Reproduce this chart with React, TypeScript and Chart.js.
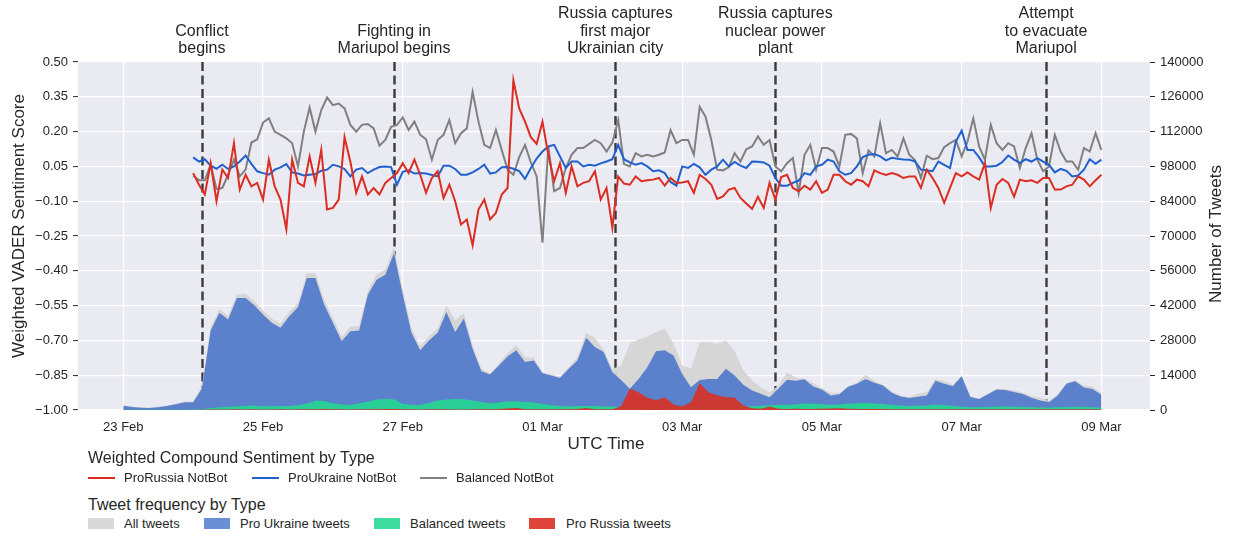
import React, { useEffect, useRef } from 'react';
import { Chart, registerables } from 'chart.js';

Chart.register(...registerables);

// ---------- DATA ----------
// Hours counted from 23 Feb 00:00 UTC
const lineStartHour = 24;
const lineStepHours = 2;
const areaStartHour = 0;
const areaStepHours = 3;

const proRussiaSentiment = [
  0.021, -0.029, -0.071, 0.064, -0.100, 0.036, 0.000, 0.150, -0.050, 0.014, -0.036,
  -0.021, -0.093, 0.079, -0.036, -0.093, -0.221, 0.079, -0.021, -0.036, 0.093, -0.021,
  0.121, -0.136, -0.129, -0.093, 0.176, 0.070, -0.064, 0.007, -0.071, -0.043, -0.071,
  -0.021, 0.000, 0.021, 0.064, 0.021, 0.079, 0.014, -0.064, 0.000, 0.029,
  -0.086, -0.029, -0.100, -0.200, -0.179, -0.290, -0.136, -0.093, -0.179, -0.150, -0.071,
  -0.043, 0.421, 0.300, 0.243, 0.176, 0.147, 0.243, 0.100, -0.014, 0.064, -0.064,
  0.050, -0.036, -0.021, -0.014, 0.029, -0.093, -0.043, -0.214, 0.007, -0.024, -0.029,
  0.007, -0.014, -0.010, -0.007, 0.000, -0.033, 0.000, -0.021, -0.019, -0.014, -0.064,
  0.014, -0.004, -0.029, -0.090, -0.079, -0.050, -0.043, -0.086, -0.110, -0.133, -0.081,
  -0.129, -0.021, -0.093,
  0.004, 0.014, -0.043, -0.057, -0.033, -0.050, -0.014, -0.064, -0.050, 0.014, 0.014,
  -0.014, -0.029, -0.007, -0.014, -0.036, 0.033, 0.021, 0.013, 0.021, 0.014, 0.000,
  0.007, 0.007, -0.043, 0.036, 0.000, -0.043, -0.107, -0.043, 0.021, 0.007, 0.024,
  0.007, -0.007, 0.064, -0.129, -0.029, -0.004, -0.021, -0.081, -0.007, -0.014, -0.010,
  -0.021, 0.000, 0.000, -0.050, -0.050, -0.036, -0.029, 0.007, -0.007, -0.036, -0.010,
  0.014,
];

const proUkraineSentiment = [
  0.089, 0.071, 0.081, 0.053, 0.040, 0.057, 0.039, 0.050, 0.071, 0.097, 0.061,
  0.029, 0.021, 0.014, 0.036, 0.046, 0.060, 0.024, 0.019, 0.011, 0.014, 0.017,
  0.031, 0.036, 0.057, 0.050, 0.039, 0.007, 0.036, 0.043, 0.021, 0.036, 0.047,
  0.050, 0.047, -0.029, 0.027, 0.033, 0.019, 0.021, 0.019, 0.013, 0.007,
  0.053, 0.053, 0.039, 0.014, 0.014, 0.024, 0.039, 0.057, 0.019, 0.024, 0.046,
  0.047, 0.040, 0.030, -0.004, 0.043, 0.084, 0.114, 0.136, 0.143, 0.093, 0.043,
  0.071, 0.071, 0.050, 0.057, 0.053, 0.063, 0.071, 0.081, 0.143, 0.081, 0.067,
  0.057, 0.064, 0.050, 0.029, 0.033, 0.021, -0.017, -0.033, 0.050, 0.043, 0.061,
  0.046, 0.014, 0.036, 0.050, 0.079, 0.050, 0.069, 0.053, 0.043, 0.071, 0.070,
  0.067, 0.053, 0.000,
  -0.033, -0.033, -0.021, -0.011, 0.021, 0.014, 0.050, 0.057, 0.079, 0.071, 0.029,
  0.014, 0.021, 0.050, 0.090, 0.100, 0.103, 0.093, 0.076, 0.087, 0.083, 0.080,
  0.079, 0.071, 0.036, 0.033, 0.029, 0.071, 0.057, 0.043, 0.157, 0.204, 0.121,
  0.121, 0.089, 0.050, 0.050, 0.053, 0.069, 0.097, 0.079, 0.064, 0.081, 0.071,
  0.086, 0.071, 0.057, 0.024, 0.039, 0.031, 0.007, 0.011, 0.036, 0.081, 0.061,
  0.079,
];

const balancedSentiment = [
  0.010, -0.010, -0.010, 0.057, -0.047, -0.043, 0.014, 0.079, 0.007, 0.036, 0.153,
  0.167, 0.239, 0.257, 0.200, 0.186, 0.171, 0.150, 0.050, 0.200, 0.304, 0.200,
  0.293, 0.347, 0.314, 0.321, 0.300, 0.229, 0.200, 0.229, 0.233, 0.214, 0.139,
  0.164, 0.221, 0.229, 0.261, 0.207, 0.243, 0.186, 0.167, 0.079, 0.164,
  0.186, 0.250, 0.150, 0.193, 0.214, 0.371, 0.243, 0.143, 0.129, 0.207, 0.121,
  0.036, 0.014, 0.090, 0.143, 0.067, 0.007, -0.279, 0.136, -0.057, -0.043, 0.043,
  0.100, 0.129, 0.129, 0.147, 0.164, 0.150, 0.114, 0.153, 0.250, 0.060, 0.050,
  0.107, 0.093, 0.100, 0.093, 0.100, 0.110, 0.207, 0.150, 0.164, 0.164, 0.100,
  0.307, 0.264, 0.164, 0.036, 0.033, 0.047, 0.107, 0.071, 0.124, 0.136, 0.179,
  0.143, 0.164, 0.050,
  0.029, 0.064, 0.086, -0.064, 0.100, 0.143, 0.036, 0.129, 0.129, 0.114, 0.050,
  0.186, 0.190, 0.171, 0.021, 0.119, 0.093, 0.236, 0.107, 0.121, 0.093, 0.171,
  0.100, 0.076, 0.000, 0.096, 0.081, 0.086, 0.133, 0.150, 0.164, 0.093, 0.157,
  0.257, 0.136, 0.079, 0.229, 0.150, 0.121, 0.150, 0.136, 0.043, 0.129, 0.193,
  0.079, 0.029, 0.050, 0.186, 0.114, 0.071, 0.071, 0.036, 0.129, 0.114, 0.193,
  0.121,
];

const allTweets = [
  1900, 1400, 1100, 1000, 1300, 1800, 2500, 3300, 3400, 9500, 33500, 40500, 38000,
  46500, 46800, 43800, 40000, 36800, 34800, 39500, 43000, 55000, 55000, 44500, 37000,
  29500, 33500, 33800, 48000, 54500, 56500, 65500, 48500, 32800, 25600, 29800, 32800,
  42100, 36100, 38800, 26000, 16600, 14800, 18600, 22900, 26000, 21300, 21000, 15200,
  14300, 13500, 17200, 21300, 31000, 29100, 24200, 16600, 17900, 26700, 28400, 29600,
  31400, 32700, 26700, 17900, 16600, 27300, 27300, 26700, 28000, 23700, 15900, 11900,
  9200, 7100, 9800,
  15100, 13100, 12600, 10900, 8800, 6900, 6800, 9500, 11000, 14300, 11700, 10100,
  7500, 5800, 5200, 6500, 7200, 12500, 11700, 10200, 13800, 5600, 4500, 6500,
  8400, 8400, 7800, 6900, 5600, 4900, 3700, 6500, 10900, 12000, 9900, 9500, 6800,
];

const proUkraineTweets = [
  1700, 1200, 900, 800, 1100, 1600, 2300, 3100, 3100, 8600, 32000, 39100, 36400,
  45100, 45100, 42100, 38400, 35100, 33100, 37700, 41300, 53100, 53100, 42400, 35100,
  27700, 31700, 32000, 46400, 52400, 54400, 63100, 46400, 31100, 24000, 28000, 31100,
  39400, 31400, 36800, 24600, 15600, 14300, 17900, 21500, 24000, 19300, 19900, 14800,
  13900, 12900, 16600, 19900, 29100, 25300, 23300, 15200, 12100, 8500, 12500, 17200,
  23600, 24000, 21900, 14500, 9200, 12100, 12500, 12500, 16600, 13900, 10200, 7800,
  6500, 5100, 8500,
  12200, 11800, 12400, 9500, 8200, 5800, 6300, 9400, 10600, 12500, 11000, 9900,
  6900, 5400, 4800, 5300, 5800, 11800, 10600, 9700, 13600, 5200, 4400, 6300,
  8200, 8000, 7200, 6400, 4900, 3800, 3100, 5800, 10600, 11600, 9100, 8400, 6100,
];

const balancedTweets = [
  100, 100, 100, 100, 100, 100, 150, 150, 200, 300, 800, 1000, 1300,
  1400, 1700, 1800, 1500, 1500, 1600, 1600, 1900, 2500, 3700, 3600, 2700,
  2200, 2000, 2700, 3300, 4200, 4400, 4300, 2500, 2100, 2000, 2900, 3800,
  4200, 4400, 4300, 3800, 3200, 2700, 3000, 3400, 3500, 3200, 3000, 2400,
  1900, 1600, 1400, 1600, 1600, 1600, 1400, 1400, 1100, 900, 800, 700,
  500, 800, 1100, 1100, 1200, 1400, 1400, 1400, 1200, 1100, 1300, 1500,
  1700, 1900, 2000,
  2100, 2200, 2600, 2500, 2300, 2100, 2200, 2500, 2700, 2900, 2600, 2400,
  2000, 1800, 1600, 1700, 1800, 2100, 2000, 1600, 1300, 1100, 1100, 1200,
  1300, 1400, 1300, 1200, 1100, 1000, 1000, 1100, 1200, 1300, 1200, 1100, 900,
];

const proRussiaTweets = [
  0, 0, 0, 0, 0, 0, 0, 0, 0, 100, 200, 200, 200,
  300, 200, 300, 200, 200, 300, 200, 300, 300, 300, 400, 300,
  300, 200, 300, 300, 300, 400, 400, 300, 300, 200, 300, 300,
  300, 200, 200, 300, 300, 300, 400, 600, 800, 300, 300, 300,
  300, 300, 300, 400, 800, 300, 300, 300, 1500, 8600, 7100, 4900,
  3900, 5100, 2200, 1400, 3100, 10800, 7100, 5900, 5100, 5000, 1800, 700,
  500, 1400, 500,
  400, 500, 400, 400, 500, 600, 700, 500, 400, 400, 400, 400,
  300, 300, 300, 300, 300, 300, 300, 300, 300, 300, 300, 300,
  300, 300, 300, 300, 300, 300, 300, 300, 300, 300, 300, 300, 200,
];

const dateTickHours = [0, 48, 96, 144, 192, 240, 288, 336];
const dateTickLabels = ['23 Feb', '25 Feb', '27 Feb', '01 Mar', '03 Mar', '05 Mar', '07 Mar', '09 Mar'];
const sentimentTicks = [-1.0, -0.85, -0.7, -0.55, -0.4, -0.25, -0.1, 0.05, 0.2, 0.35, 0.5];
const tweetTicks = [0, 14000, 28000, 42000, 56000, 70000, 84000, 98000, 112000, 126000, 140000];

const eventHours = [27, 93, 169, 224, 317];
const eventLabels = [
  ['Conflict', 'begins'],
  ['Fighting in', 'Mariupol begins'],
  ['Russia captures', 'first major', 'Ukrainian city'],
  ['Russia captures', 'nuclear power', 'plant'],
  ['Attempt', 'to evacuate', 'Mariupol'],
];

const lineLegendLabels = ['ProRussia NotBot', 'ProUkraine NotBot', 'Balanced NotBot'];
const areaLegendLabels = ['All tweets', 'Pro Ukraine tweets', 'Balanced tweets', 'Pro Russia tweets'];

// ---------- STYLE ----------
const FONT = '"Liberation Sans", Arial, Helvetica, sans-serif';
const TEXT = '#262626';
const RED_LINE = '#dc2d22';
const BLUE_LINE = '#2160cf';
const GRAY_LINE = '#808080';
const ALL_FILL = 'rgba(212,212,212,0.92)';
const UKR_FILL = 'rgba(78,120,203,0.9)';
const BAL_FILL = 'rgba(40,210,150,0.97)';
const RUS_FILL = 'rgba(214,50,40,0.93)';
const LEGEND_LINE_COLORS = [RED_LINE, BLUE_LINE, GRAY_LINE];
const LEGEND_PATCH_COLORS = ['#d9d9d9', '#6a8fd6', '#3ddc9e', '#df443b'];

const toPoints = (values: number[], start: number, step: number) =>
  values.map((v, i) => ({ x: start + i * step, y: v }));

const fmtSent = (v: number) => (v < 0 ? '\u2212' : '') + Math.abs(v).toFixed(2);

const bgPlugin = {
  id: 'bg',
  beforeDraw(chart: any) {
    const { ctx, chartArea, width, height } = chart;
    ctx.save();
    ctx.fillStyle = '#ffffff';
    ctx.fillRect(0, 0, width, height);
    ctx.fillStyle = '#eaeaf2';
    ctx.fillRect(chartArea.left, chartArea.top, chartArea.right - chartArea.left, chartArea.bottom - chartArea.top);
    ctx.restore();
  },
};

const eventPlugin = {
  id: 'events',
  beforeDatasetsDraw(chart: any) {
    const { ctx, chartArea, scales } = chart;
    ctx.save();
    ctx.strokeStyle = '#3a3a3a';
    ctx.lineWidth = 2.4;
    ctx.setLineDash([9, 4.5]);
    eventHours.forEach((h) => {
      const x = Math.round(scales.x.getPixelForValue(h)) + 0.5;
      ctx.beginPath();
      ctx.moveTo(x, chartArea.top);
      ctx.lineTo(x, chartArea.bottom);
      ctx.stroke();
    });
    ctx.restore();
  },
  afterDraw(chart: any) {
    const { ctx, scales } = chart;
    ctx.save();
    ctx.fillStyle = TEXT;
    ctx.font = `16px ${FONT}`;
    ctx.textAlign = 'center';
    ctx.textBaseline = 'middle';
    eventHours.forEach((h, i) => {
      const x = scales.x.getPixelForValue(h);
      const lines = eventLabels[i];
      lines.forEach((t, j) => {
        const y = 49 - (lines.length - 1 - j) * 17.5;
        ctx.fillText(t, x, y);
      });
    });
    ctx.restore();
  },
};

const titlePlugin = {
  id: 'titles',
  afterDraw(chart: any) {
    const { ctx } = chart;
    ctx.save();
    ctx.fillStyle = TEXT;
    ctx.font = `17px ${FONT}`;
    ctx.textAlign = 'center';
    ctx.textBaseline = 'middle';
    ctx.fillText('UTC Time', 606, 444);
    ctx.save();
    ctx.translate(19, 226);
    ctx.rotate(-Math.PI / 2);
    ctx.fillText('Weighted VADER Sentiment Score', 0, 0);
    ctx.restore();
    ctx.save();
    ctx.translate(1216, 234);
    ctx.rotate(-Math.PI / 2);
    ctx.fillText('Number of Tweets', 0, 0);
    ctx.restore();
    ctx.restore();
  },
};

function ChartCanvas() {
  const ref = useRef<HTMLCanvasElement | null>(null);
  useEffect(() => {
    if (!ref.current) return;
    const lineDs = (label: string, values: number[], color: string) => ({
      label,
      data: toPoints(values, lineStartHour, lineStepHours),
      borderColor: color,
      backgroundColor: color,
      borderWidth: 2,
      pointRadius: 0,
      tension: 0,
      fill: false,
      yAxisID: 'y',
      order: 0,
    });
    const areaDs = (label: string, values: number[], color: string, order: number) => ({
      label,
      data: toPoints(values, areaStartHour, areaStepHours),
      borderColor: 'rgba(0,0,0,0)',
      backgroundColor: color,
      borderWidth: 0,
      pointRadius: 0,
      tension: 0,
      fill: 'origin',
      yAxisID: 'y2',
      order,
    });
    const tickFont = { family: FONT, size: 13 };
    const chart = new Chart(ref.current, {
      type: 'line',
      data: {
        datasets: [
          lineDs(lineLegendLabels[0], proRussiaSentiment, RED_LINE),
          lineDs(lineLegendLabels[1], proUkraineSentiment, BLUE_LINE),
          lineDs(lineLegendLabels[2], balancedSentiment, GRAY_LINE),
          areaDs(areaLegendLabels[3], proRussiaTweets, RUS_FILL, 1),
          areaDs(areaLegendLabels[2], balancedTweets, BAL_FILL, 2),
          areaDs(areaLegendLabels[1], proUkraineTweets, UKR_FILL, 3),
          areaDs(areaLegendLabels[0], allTweets, ALL_FILL, 4),
        ] as any,
      },
      options: {
        animation: false,
        responsive: false,
        events: [],
        layout: { padding: { top: 62, left: 0, right: 0, bottom: 0 } },
        plugins: { legend: { display: false }, tooltip: { enabled: false } },
        scales: {
          x: {
            type: 'linear',
            position: 'bottom',
            min: -15.57,
            max: 352.7,
            afterBuildTicks: (s: any) => {
              s.ticks = dateTickHours.map((v) => ({ value: v }));
            },
            afterFit: (s: any) => {
              s.height = 45;
            },
            ticks: {
              callback: (_v: any, i: number) => dateTickLabels[i],
              font: tickFont,
              color: TEXT,
              padding: 10,
              maxRotation: 0,
              autoSkip: false,
            },
            grid: { color: '#ffffff', lineWidth: 1.2, drawTicks: false },
            border: { display: false },
          },
          y: {
            type: 'linear',
            position: 'left',
            min: -1,
            max: 0.5,
            afterBuildTicks: (s: any) => {
              s.ticks = sentimentTicks.map((v) => ({ value: v }));
            },
            afterFit: (s: any) => {
              s.width = 78;
            },
            ticks: {
              callback: (v: any) => fmtSent(Number(v)),
              font: tickFont,
              color: TEXT,
              padding: 5,
            },
            grid: { color: '#ffffff', lineWidth: 1.2, tickColor: TEXT, tickLength: 5, tickWidth: 1 },
            border: { display: false },
          },
          y2: {
            type: 'linear',
            position: 'right',
            min: 0,
            max: 140000,
            afterBuildTicks: (s: any) => {
              s.ticks = tweetTicks.map((v) => ({ value: v }));
            },
            afterFit: (s: any) => {
              s.width = 94;
            },
            ticks: {
              callback: (v: any) => String(v),
              font: tickFont,
              color: TEXT,
              padding: 5,
            },
            grid: { drawOnChartArea: false, color: TEXT, tickColor: TEXT, tickLength: 5, tickWidth: 1 },
            border: { display: false },
          },
        },
      } as any,
      plugins: [bgPlugin, eventPlugin, titlePlugin],
    });
    return () => chart.destroy();
  }, []);
  return <canvas ref={ref} width={1244} height={455} style={{ display: 'block', width: 1244, height: 455 }} />;
}

function Legend() {
  const entryText: React.CSSProperties = { position: 'absolute', fontSize: 13, color: TEXT, lineHeight: '15px', whiteSpace: 'nowrap' };
  const lineX = [88, 252, 420];
  const lineTextX = [124, 288, 456];
  const patchX = [88, 204, 374, 529];
  const patchTextX = [124, 240, 410, 566];
  return (
    <>
      <div style={{ position: 'absolute', left: 88, top: 449, fontSize: 16, lineHeight: '18px', color: TEXT, whiteSpace: 'nowrap' }}>
        Weighted Compound Sentiment by Type
      </div>
      {lineLegendLabels.map((t, i) => (
        <React.Fragment key={t}>
          <div style={{ position: 'absolute', left: lineX[i], top: 477, width: 27, height: 2, background: LEGEND_LINE_COLORS[i] }} />
          <div style={{ ...entryText, left: lineTextX[i], top: 470 }}>{t}</div>
        </React.Fragment>
      ))}
      <div style={{ position: 'absolute', left: 88, top: 496, fontSize: 16, lineHeight: '18px', color: TEXT, whiteSpace: 'nowrap' }}>
        Tweet frequency by Type
      </div>
      {areaLegendLabels.map((t, i) => (
        <React.Fragment key={t}>
          <div style={{ position: 'absolute', left: patchX[i], top: 518, width: 26, height: 11, background: LEGEND_PATCH_COLORS[i] }} />
          <div style={{ ...entryText, left: patchTextX[i], top: 516 }}>{t}</div>
        </React.Fragment>
      ))}
    </>
  );
}

export default function App() {
  return (
    <div
      style={{
        position: 'absolute',
        left: 0,
        top: 0,
        width: 1244,
        height: 537,
        background: '#ffffff',
        fontFamily: FONT,
        overflow: 'hidden',
      }}
    >
      <ChartCanvas />
      <Legend />
    </div>
  );
}
